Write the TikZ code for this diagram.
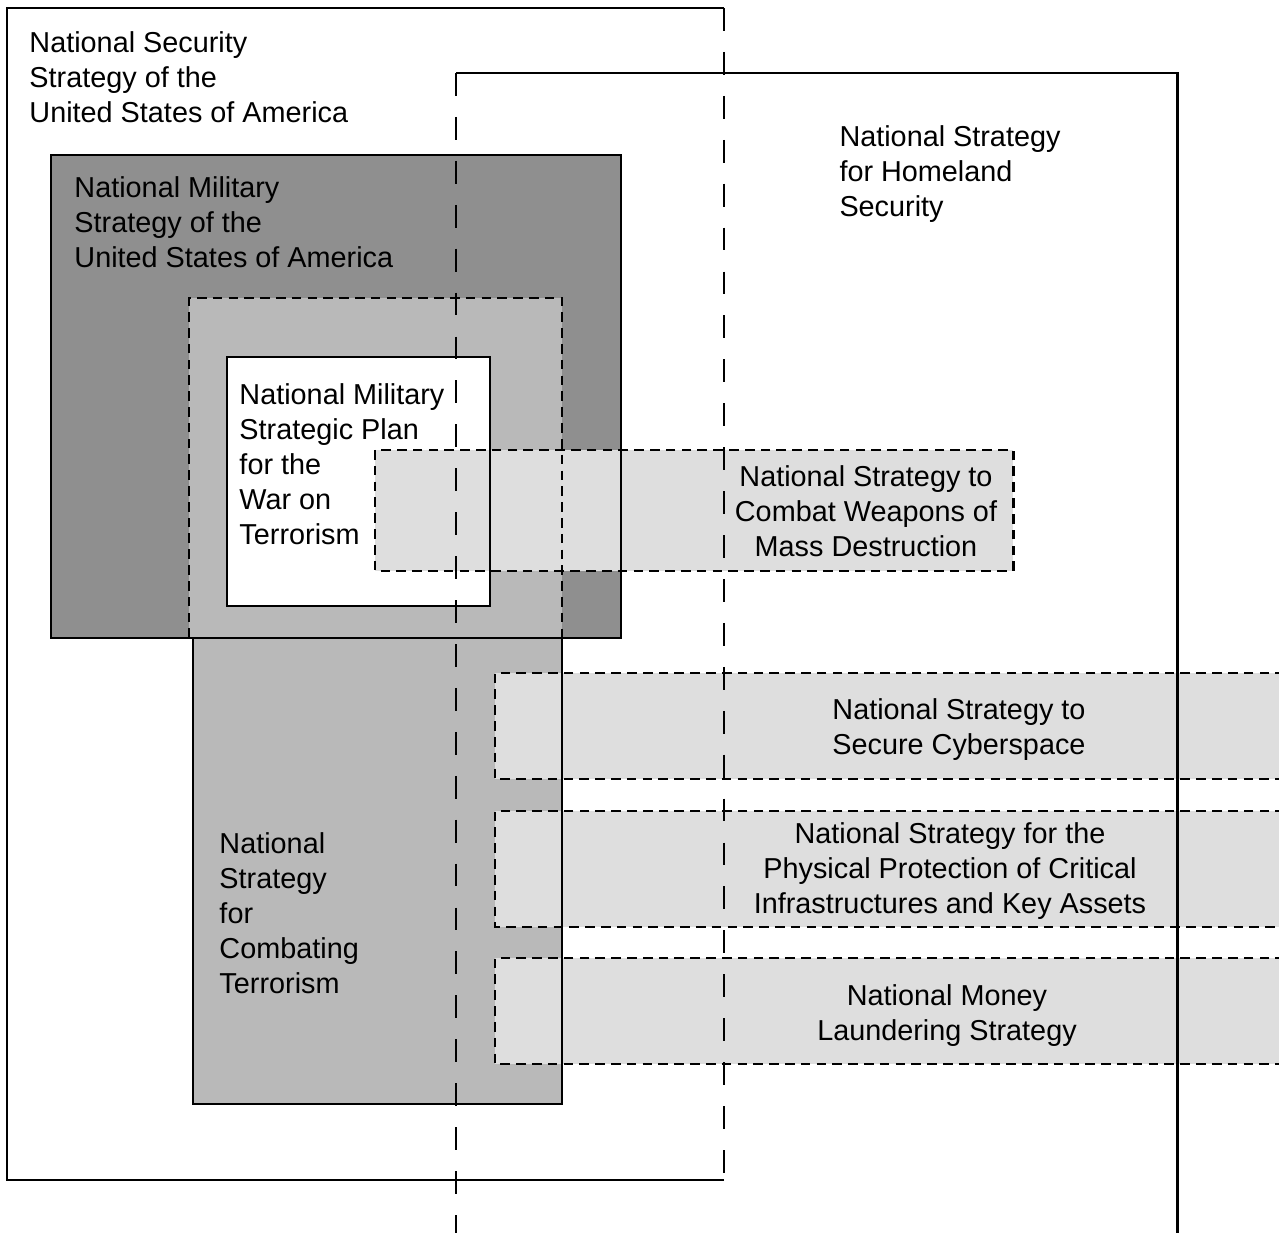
\documentclass[tikz,border=0pt]{standalone}
\usepackage{fontspec}
\setmainfont{Liberation Sans}
\definecolor{milgray}{gray}{0.56}
\definecolor{combgray}{gray}{0.725}
\definecolor{bandgray}{gray}{0.87}
\begin{document}
\begin{tikzpicture}[x=0.02cm,y=-0.02cm, line width=1.7pt,
  shortdash/.style={dash pattern=on 5.5pt off 3.5pt},
  longdash/.style={dash pattern=on 13pt off 12pt},
  txt/.style={inner sep=0pt, font=\fontsize{16.4}{19.84}\selectfont},
  lefttext/.style={txt, anchor=north west, align=left},
  centertext/.style={txt, anchor=north, align=center}]
\useasboundingbox (0,0) rectangle (1279,1233);
% ---------- fills ----------
\fill[milgray] (51,155) rectangle (621,638);
\fill[combgray] (189,298) rectangle (562,638);
\fill[combgray] (193,638) rectangle (562,1104);
\fill[white] (227,357) rectangle (490,606);
\fill[bandgray] (375,450) rectangle (1013,571);
\fill[bandgray] (495,673) rectangle (1285,779);
\fill[bandgray] (495,811) rectangle (1285,927);
\fill[bandgray] (495,958) rectangle (1285,1064);
% ---------- borders ----------
% National Security Strategy
\draw (724,1180) -- (7,1180) -- (7,8) -- (724,8);
\draw[longdash] (724,8) -- (724,1180);
% Homeland Security
\draw (456,73) -- (1177,73) -- (1177,1240);
\draw[longdash] (456,73) -- (456,1240);
% Military Strategy
\draw (51,155) rectangle (621,638);
% Combating Terrorism
\draw[shortdash] (189,638) -- (189,298) -- (562,298) -- (562,638);
\draw (193,638) rectangle (562,1104);
% Strategic Plan
\draw (227,357) rectangle (490,606);
% WMD
\draw[shortdash] (375,450) rectangle (1013,571);
% bands
\draw[shortdash] (1285,673) -- (495,673) -- (495,779) -- (1285,779);
\draw[shortdash] (1285,811) -- (495,811) -- (495,927) -- (1285,927);
\draw[shortdash] (1285,958) -- (495,958) -- (495,1064) -- (1285,1064);
% ---------- texts ----------
\node[lefttext] (sec) at (28,30.5) {National Security\\Strategy of the\\United States of America};
\node[lefttext] (mil) at (73,175.5) {National Military\\Strategy of the\\United States of America};
\node[lefttext] (home) at (838,124.5) {National Strategy\\for Homeland\\Security};
\node[lefttext] (plan) at (238,382.5) {National Military\\Strategic Plan\\for the\\War on\\Terrorism};
\node[lefttext] (comb) at (218,831.5) {National\\Strategy\\for\\Combating\\Terrorism};
\node[centertext] (wmd) at (866,464.5) {National Strategy to\\Combat Weapons of\\Mass Destruction};
\node[centertext] (cyber) at (959,697.5) {National Strategy to\\Secure Cyberspace};
\node[centertext] (phys) at (950,821.5) {National Strategy for the\\Physical Protection of Critical\\Infrastructures and Key Assets};
\node[centertext] (money) at (947,983.5) {National Money\\Laundering Strategy};
\end{tikzpicture}
\end{document}
